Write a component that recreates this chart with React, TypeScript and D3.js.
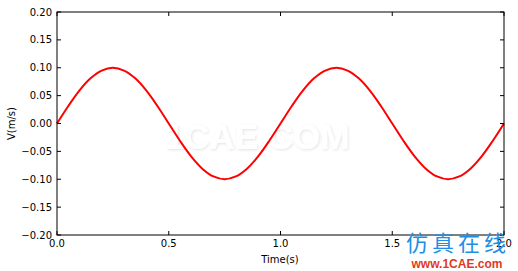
import React from "react";
import * as d3 from "d3";

const times = [0, 0.05, 0.1, 0.15, 0.2, 0.25, 0.3, 0.35, 0.4, 0.45, 0.5, 0.55, 0.6, 0.65, 0.7, 0.75, 0.8, 0.85, 0.9, 0.95, 1.0,
  1.05, 1.1, 1.15, 1.2, 1.25, 1.3, 1.35, 1.4, 1.45, 1.5, 1.55, 1.6, 1.65, 1.7, 1.75, 1.8, 1.85, 1.9, 1.95, 2.0];
const velocity = [0, 0.031, 0.059, 0.081, 0.095, 0.1, 0.095, 0.081, 0.059, 0.031, 0, -0.031, -0.059, -0.081, -0.095, -0.1, -0.095, -0.081, -0.059, -0.031, 0,
  0.031, 0.059, 0.081, 0.095, 0.1, 0.095, 0.081, 0.059, 0.031, 0, -0.031, -0.059, -0.081, -0.095, -0.1, -0.095, -0.081, -0.059, -0.031, 0];
const xTicks = [0, 0.5, 1.0, 1.5, 2.0];
const yTicks = [-0.2, -0.15, -0.1, -0.05, 0, 0.05, 0.1, 0.15, 0.2];

export default function App() {
  const W = 518, H = 271;
  const L = 57, R = 504, T = 12, B = 235;
  const x = d3.scaleLinear().domain([0, 2]).range([L, R]);
  const y = d3.scaleLinear().domain([-0.2, 0.2]).range([B, T]);
  const line = d3.line<number>().x((_, i) => x(times[i])).y(d => y(d)).curve(d3.curveCatmullRom);
  const font = "DejaVu Sans, sans-serif";
  const tl = 4;
  return (
    <svg width={W} height={H} style={{ position: "absolute", left: 0, top: 0 }} fontFamily={font}>
      <rect x={0} y={0} width={W} height={H} fill="#fff" />
      <defs>
        <filter id="sh" x="-10%" y="-20%" width="120%" height="140%">
          <feGaussianBlur in="SourceAlpha" stdDeviation="1.5" />
          <feOffset dx="1" dy="1" result="b" />
          <feComponentTransfer><feFuncA type="linear" slope="0.12" /></feComponentTransfer>
          <feMerge><feMergeNode /><feMergeNode in="SourceGraphic" /></feMerge>
        </filter>
      </defs>
      <text x={257} y={149} textAnchor="middle" fontSize={35} fontWeight="bold" fill="#fff" filter="url(#sh)" fontFamily="Liberation Sans, Arial, sans-serif">1CAE.COM</text>
      <path d={line(velocity) || ""} fill="none" stroke="#ff0000" strokeWidth={2} />
      <rect x={L} y={T} width={R - L} height={B - T} fill="none" stroke="#000" strokeWidth={1} />
      {xTicks.map(t => (
        <g key={"x" + t}>
          <line x1={x(t)} x2={x(t)} y1={B} y2={B - tl} stroke="#000" />
          <line x1={x(t)} x2={x(t)} y1={T} y2={T + tl} stroke="#000" />
          <text x={x(t)} y={247} textAnchor="middle" fontSize={10} fill="#000">{t.toFixed(1)}</text>
        </g>
      ))}
      {yTicks.map(t => (
        <g key={"y" + t}>
          <line x1={L} x2={L + tl} y1={y(t)} y2={y(t)} stroke="#000" />
          <line x1={R} x2={R - tl} y1={y(t)} y2={y(t)} stroke="#000" />
          <text x={52} y={y(t) + 3.5} textAnchor="end" fontSize={10} fill="#000">{(t < 0 ? "\u2212" : "") + Math.abs(t).toFixed(2)}</text>
        </g>
      ))}
      <text x={280} y={263} textAnchor="middle" fontSize={10} fill="#000">Time(s)</text>
      <text transform={`translate(15,${(T + B) / 2}) rotate(-90)`} textAnchor="middle" fontSize={10} fill="#000">V(m/s)</text>
      <text x={458} y={251} textAnchor="middle" fontSize={22} fill="#1e8fe6" fontFamily="Noto Sans CJK SC, sans-serif" letterSpacing={4}>仿真在线</text>
      <text x={457} y={268} textAnchor="middle" fontSize={12} fontWeight="bold" fill="#e03a1e" fontFamily="Liberation Sans, Arial, sans-serif">www.1CAE.com</text>
    </svg>
  );
}
